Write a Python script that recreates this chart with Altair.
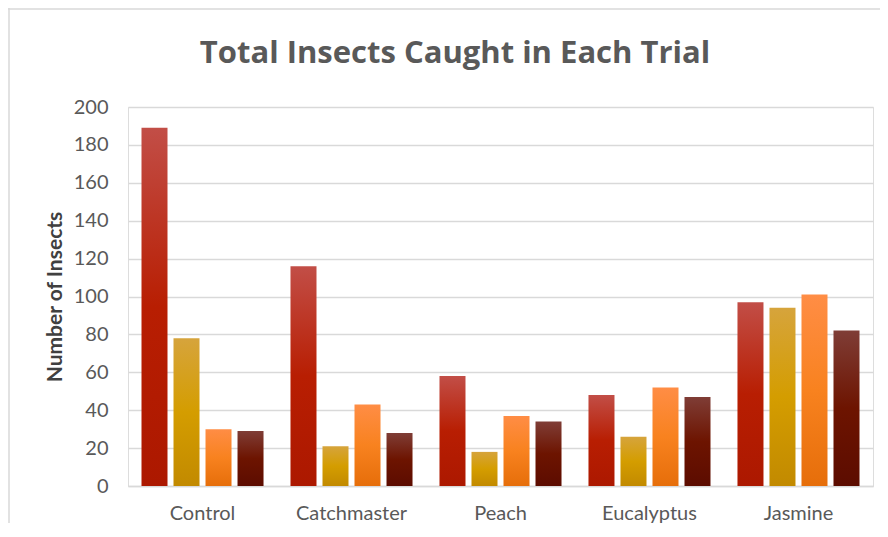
import altair as alt
import pandas as pd

categories = ["Control", "Catchmaster", "Peach", "Eucalyptus", "Jasmine"]
series = ["Trial 1", "Trial 2", "Trial 3", "Trial 4"]
trial1 = [189, 116, 58, 48, 97]
trial2 = [78, 21, 18, 26, 94]
trial3 = [30, 43, 37, 52, 101]
trial4 = [29, 28, 34, 47, 82]
y_ticks = [0, 20, 40, 60, 80, 100, 120, 140, 160, 180, 200]
chart_title = "Total Insects Caught in Each Trial"

series_values = [trial1, trial2, trial3, trial4]
rows = []
for s, vals in zip(series, series_values):
    for c, v in zip(categories, vals):
        rows.append({"Item": c, "Trial": s, "Count": v})
df = pd.DataFrame(rows)

gradients = [
    [(0, "#C24E47"), (0.5, "#B81E02"), (1, "#AC1800")],
    [(0, "#D6A43C"), (0.5, "#D49D00"), (1, "#C28A00")],
    [(0, "#FF8D45"), (0.5, "#F8821F"), (1, "#E66E0A")],
    [(0, "#7F3D36"), (0.5, "#6D1400"), (1, "#5C0C00")],
]

FONT = "Lato"
TEXT = "#595959"

x_enc = alt.X(
    "Item:N",
    sort=categories,
    scale=alt.Scale(paddingInner=0.181, paddingOuter=0.0906),
    axis=alt.Axis(
        title=None, labelAngle=0, labelFont=FONT, labelFontSize=20, labelColor=TEXT,
        ticks=False, domainColor="#D9D9D9", domainWidth=1.5, labelPadding=17,
    ),
)
xoff_enc = alt.XOffset(
    "Trial:N", sort=series,
    scale=alt.Scale(domain=series, paddingInner=0.1875, paddingOuter=0),
)
y_enc = alt.Y(
    "Count:Q",
    scale=alt.Scale(domain=[0, 200], nice=False),
    axis=alt.Axis(
        title="Number of Insects", values=y_ticks, labelFont=FONT, labelFontSize=20,
        labelColor=TEXT, ticks=False, domain=False, gridColor="#D9D9D9", gridWidth=1.5,
        labelPadding=20, titleFont=FONT, titleFontSize=21, titleFontWeight="bold",
        titleColor="#404040", titlePadding=8,
    ),
)

layers = []
for s, stops in zip(series, gradients):
    grad = alt.Gradient(
        gradient="linear",
        stops=[alt.GradientStop(color=c, offset=o) for o, c in stops],
        x1=0, x2=0, y1=0, y2=1,
    )
    layers.append(
        alt.Chart(df)
        .transform_filter(alt.datum.Trial == s)
        .mark_bar(color=grad)
        .encode(x=x_enc, xOffset=xoff_enc, y=y_enc)
    )

one = pd.DataFrame({"k": [0]})
top_rule = (
    alt.Chart(one)
    .mark_rule(color="#D9D9D9", strokeWidth=1.5)
    .encode(x=alt.value(-120), x2=alt.value(760), y=alt.value(-98))
)
left_rule = (
    alt.Chart(one)
    .mark_rule(color="#D9D9D9", strokeWidth=1.5)
    .encode(x=alt.value(-119), y=alt.value(-99), y2=alt.value(430))
)
title_text = (
    alt.Chart(one)
    .mark_text(
        font="Open Sans", fontSize=31, fontWeight="bold", color=TEXT,
        align="center", baseline="middle",
    )
    .encode(x=alt.value(327), y=alt.value(-53), text=alt.value(chart_title))
)

chart = (
    alt.layer(top_rule, left_rule, title_text, *layers)
    .properties(
        width=745,
        height=379,
        autosize=alt.AutoSizeParams(type="none"),
        padding={"left": 120, "top": 99, "right": 7, "bottom": 37},
    )
    .configure_view(strokeWidth=0, stroke="transparent")
    .configure(background="white")
)

chart.save("out.html", embed_options={"renderer": "svg", "actions": False})
